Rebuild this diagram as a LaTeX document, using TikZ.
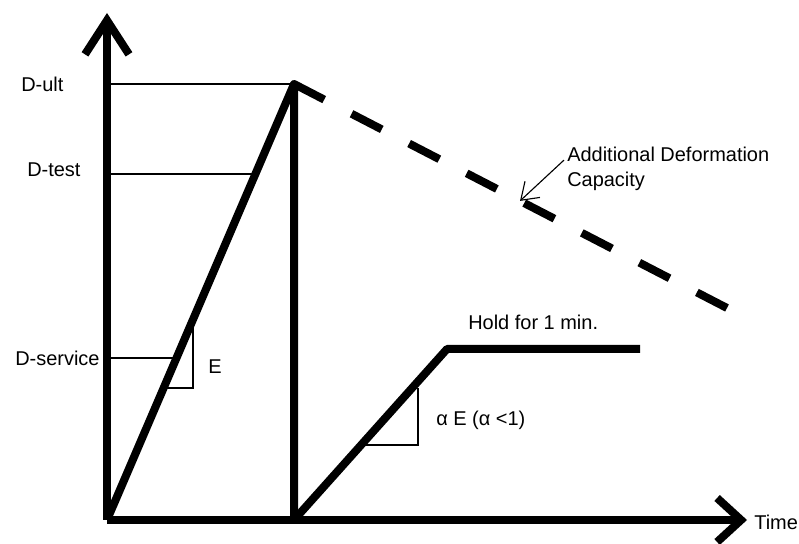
\documentclass[tikz,border=0pt]{standalone}
\usepackage{fontspec}
\setmainfont{Liberation Sans}
\usetikzlibrary{arrows.meta,calc,positioning}

\begin{document}
\begin{tikzpicture}[font=\fontsize{14.2}{17.7}\selectfont,
    load/.style={line width=0.2cm, line join=round},
    guide/.style={line width=0.8pt},
    lbl/.style={anchor=west, inner sep=0pt}]
  \useasboundingbox (0,0) rectangle (19.975,13.6);
  \coordinate (O) at (2.675,0.6);
  \coordinate (ytop) at (2.675,13.275);
  \coordinate (xend) at (18.675,0.6);
  \coordinate (P) at (7.35,11.5);
  \coordinate (B) at (7.35,0.6);
  \coordinate (C) at (11.175,4.875);
  \coordinate (H) at (16.0,4.875);
  \coordinate (Q) at (18.175,5.9);
  % axes
  \draw[load, -{Straight Barb[length=0.85cm, width=1.1cm]}] (O) -- (ytop);
  \draw[load, -{Straight Barb[length=0.6cm, width=1.1cm]}] (O) -- (xend);
  \node[lbl] (time) at (18.85,0.55) {Time};
  % levels
  \foreach \name/\t/\lx/\ly in {
      ult/1.0/0.525/11.5,
      test/0.7936/0.675/9.35,
      service/0.3716/0.375/4.65} {
    \coordinate (l-\name) at ($(O)!\t!(P)$);
    \draw[guide, shorten >=2pt] (O |- l-\name) -- (l-\name);
    \node[lbl] (d-\name) at (\lx,\ly) {D-\name};
  }
  % load path
  \draw[load] (O) -- (P) -- (B);
  \draw[load, dash pattern=on 0.85cm off 0.77cm] (P) -- (Q);
  \draw[load] (B) -- (C) -- (H);
  % slopes
  \draw[guide] (4.825,5.4) -- (4.825,3.9) -- (4.175,3.9);
  \node (e-first) at (5.375,4.425) {E};
  \draw[guide] (10.45,3.9) -- (10.45,2.475) -- (9.125,2.475);
  \node[lbl] (e-second) at (10.9,3.1) {α E (α <1)};
  \node[lbl] (hold) at (11.7,5.55) {Hold for 1 min.};
  \node[lbl, align=left] (extra) at (14.175,9.3875) {Additional Deformation\\Capacity};
  \coordinate (tip) at ($(P)!0.522!(Q)$);
  \draw[guide, -{Straight Barb[length=0.4cm, width=0.55cm]}]
    ([xshift=-0.075cm, yshift=0.21cm]extra.west) -- (tip);
\end{tikzpicture}
\end{document}
